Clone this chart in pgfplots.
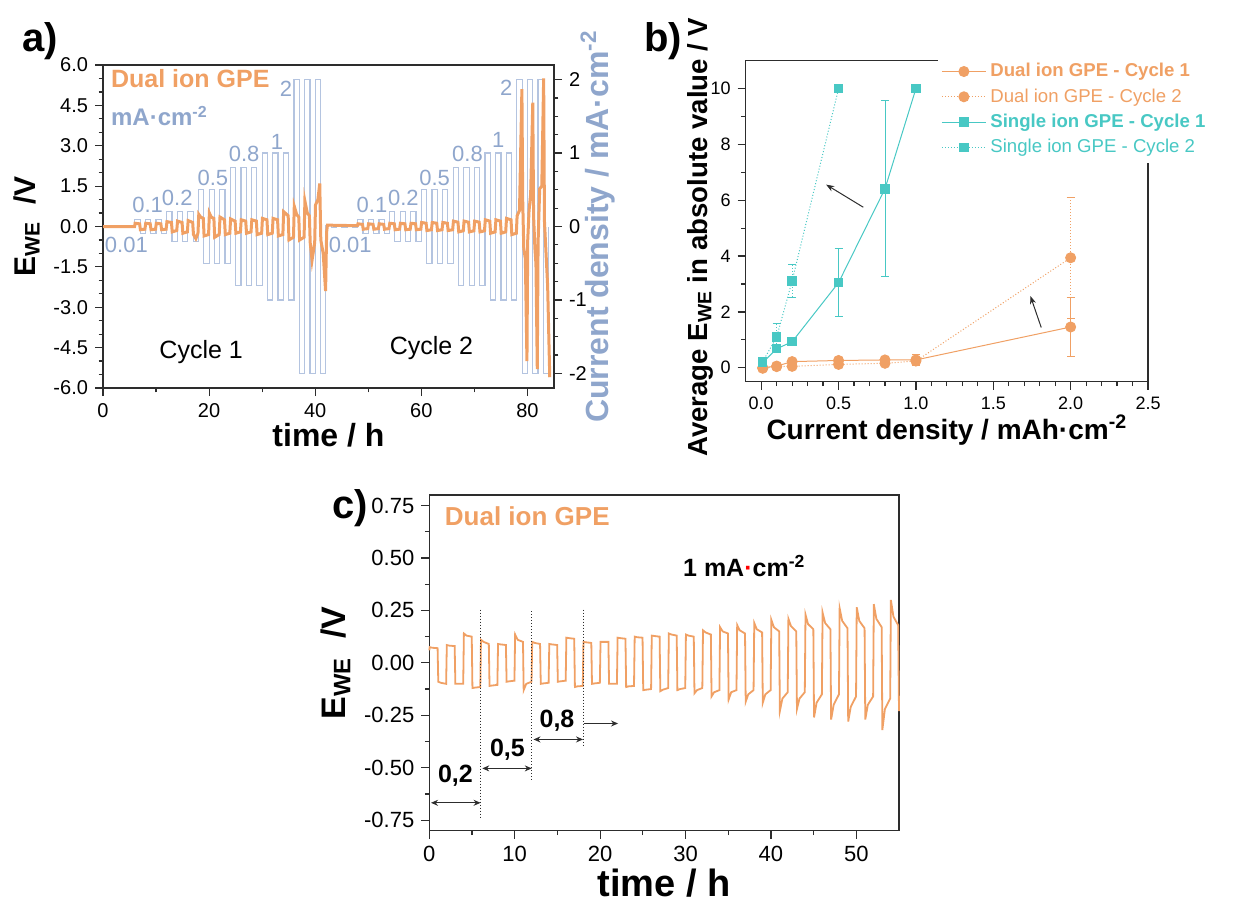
\documentclass[border=0pt]{standalone}
\usepackage{pgfplots}
\usepackage{pgfplotstable}
\pgfplotsset{compat=1.18}
\usepackage{fontspec}
\setmainfont{Liberation Sans}
\usetikzlibrary{arrows.meta}

\definecolor{dual}{RGB}{240,160,100}
\definecolor{curr}{RGB}{143,166,204}
\definecolor{wave}{RGB}{180,196,224}
\definecolor{single}{RGB}{72,200,196}
\definecolor{axc}{RGB}{45,45,45}

\pgfplotsset{
  origin/.style={
    scale only axis,
    axis line style={axc, line width=0.75pt},
    tick style={axc, line width=0.6pt},
    tick align=outside,
    major tick length=4pt, minor tick length=2.2pt,
    /pgf/number format/assume math mode=true,
    clip=false,
  },
}

% panel a: applied current (mA/cm2), square steps
\pgfplotstableread{
t I
0 0.01
1 -0.01
2 0.01
3 -0.01
4 0.01
5 -0.01
6 0.1
7 -0.1
8 0.1
9 -0.1
10 0.1
11 -0.1
12 0.2
13 -0.2
14 0.2
15 -0.2
16 0.2
17 -0.2
18 0.5
19 -0.5
20 0.5
21 -0.5
22 0.5
23 -0.5
24 0.8
25 -0.8
26 0.8
27 -0.8
28 0.8
29 -0.8
30 1
31 -1
32 1
33 -1
34 1
35 -1
36 2
37 -2
38 2
39 -2
40 2
41 -2
42 0.01
43 -0.01
44 0.01
45 -0.01
46 0.01
47 -0.01
48 0.1
49 -0.1
50 0.1
51 -0.1
52 0.1
53 -0.1
54 0.2
55 -0.2
56 0.2
57 -0.2
58 0.2
59 -0.2
60 0.5
61 -0.5
62 0.5
63 -0.5
64 0.5
65 -0.5
66 0.8
67 -0.8
68 0.8
69 -0.8
70 0.8
71 -0.8
72 1
73 -1
74 1
75 -1
76 1
77 -1
78 2
79 -2
80 2
81 -2
82 2
83 -2
84 0
}\curA

% panel a: working electrode potential (V)
\pgfplotstableread{
t V
0 0
5.95 0
6.05 0.12
6.9 0.1
7.05 -0.12
7.9 -0.1
8.05 0.12
8.9 0.1
9.05 -0.12
9.9 -0.1
10.05 0.12
10.9 0.1
11.05 -0.12
11.9 -0.1
12.05 0.18
12.9 0.15
13.05 -0.2
13.9 -0.15
14.05 0.2
14.9 0.15
15.05 -0.25
15.9 -0.2
16.05 0.22
16.9 0.15
17.05 -0.3
17.5 -0.45
17.9 -0.25
18.05 0.45
18.4 0.35
18.9 0.3
19.05 -0.35
19.9 -0.3
20.05 0.5
20.4 0.35
20.9 0.3
21.05 -0.4
21.9 -0.3
22.05 0.35
22.9 0.25
23.05 -0.3
23.9 -0.25
24.05 0.28
24.9 0.2
25.05 -0.25
25.9 -0.2
26.05 0.25
26.9 0.2
27.05 -0.25
27.9 -0.2
28.05 0.25
28.9 0.2
29.05 -0.3
29.9 -0.25
30.05 0.3
30.9 0.25
31.05 -0.3
31.9 -0.25
32.05 0.3
32.9 0.25
33.05 -0.35
33.9 -0.3
34.05 0.55
34.9 0.4
35.05 -0.5
35.9 -0.4
36.05 0.75
36.5 0.45
36.9 0.35
37.05 -0.5
37.9 -0.4
38.05 0.95
38.5 0.5
38.9 0.4
39.05 -0.6
39.4 -1.25
39.9 -0.6
40.05 0.8
40.5 1.0
40.85 1.6
41.05 -0.5
41.5 -1.0
41.95 -2.4
42.15 -0.2
42.3 0.05
47.95 0.03
48.05 0.1
48.9 0.08
49.05 -0.1
49.9 -0.08
50.05 0.1
50.9 0.08
51.05 -0.1
51.9 -0.08
52.05 0.1
52.9 0.08
53.05 -0.1
53.9 -0.08
54.05 0.12
54.9 0.1
55.05 -0.12
55.9 -0.1
56.05 0.12
56.9 0.1
57.05 -0.12
57.9 -0.1
58.05 0.12
58.9 0.1
59.05 -0.12
59.9 -0.1
60.05 0.15
60.9 0.12
61.05 -0.15
61.9 -0.12
62.05 0.15
62.9 0.12
63.05 -0.15
63.9 -0.12
64.05 0.15
64.9 0.12
65.05 -0.15
65.9 -0.12
66.05 0.2
66.9 0.16
67.05 -0.2
67.9 -0.16
68.05 0.2
68.9 0.16
69.05 -0.2
69.9 -0.16
70.05 0.2
70.9 0.16
71.05 -0.2
71.9 -0.16
72.05 0.25
72.9 0.2
73.05 -0.25
73.9 -0.2
74.05 0.25
74.9 0.2
75.05 -0.25
75.9 -0.2
76.05 0.3
76.9 0.25
77.05 -0.3
77.9 -0.25
78.05 0.4
78.5 0.6
78.95 5.1
79.1 1.0
79.3 -0.8
79.6 -1.2
79.9 -5.0
80.05 -0.5
80.3 0.6
80.6 1.2
81.0 4.6
81.15 0.4
81.4 -0.8
81.6 -1.4
81.85 -5.3
82.0 -0.6
82.3 1.4
82.7 1.5
83.05 5.5
83.2 0.2
83.5 -1.0
83.8 -2.2
84.2 -5.6
}\volA

% panel b: average |E_WE| vs current density
\pgfplotstableread{
j E e
0.01 0.0 0.05
0.1 0.06 0.05
0.2 0.22 0.05
0.5 0.26 0.08
0.8 0.28 0.08
1.0 0.28 0.2
2.0 1.46 1.05
}\dualone
\pgfplotstableread{
j E e
0.01 -0.02 0.03
0.1 0.04 0.03
0.2 0.05 0.05
0.5 0.12 0.08
0.8 0.16 0.08
1.0 0.24 0.1
2.0 3.94 2.16
}\dualtwo
\pgfplotstableread{
j E e
0.01 0.18 0.05
0.1 0.68 0.1
0.2 0.93 0.1
0.5 3.05 1.23
0.8 6.41 3.15
1.0 10.0 0
}\singleone
\pgfplotstableread{
j E e
0.01 0.22 0.05
0.1 1.1 0.5
0.2 3.11 0.6
0.5 10.0 0
}\singletwo

% panel c: potential profile, 1 mA/cm2 after 0.2/0.5/0.8 steps
\pgfplotstableread{
t V
0 0.06
0.05 0.075
0.35 0.072
0.97 0.07
1.05 -0.09
1.35 -0.095
1.97 -0.1
2.05 0.085
2.35 0.082
2.97 0.08
3.05 -0.1
3.35 -0.1
3.97 -0.1
4.05 0.14
4.35 0.13
4.97 0.125
5.05 -0.12
5.35 -0.118
5.97 -0.115
6.05 0.11
6.35 0.1
6.97 0.09
7.05 -0.11
7.35 -0.108
7.97 -0.105
8.05 0.09
8.35 0.088
8.97 0.085
9.05 -0.09
9.35 -0.088
9.97 -0.085
10.05 0.135
10.35 0.11
10.97 0.1
11.05 -0.13
11.35 -0.1
11.97 -0.09
12.05 0.1
12.35 0.095
12.97 0.09
13.05 -0.1
13.35 -0.098
13.97 -0.095
14.05 0.09
14.35 0.088
14.97 0.085
15.05 -0.09
15.35 -0.088
15.97 -0.085
16.05 0.12
16.35 0.118
16.97 0.115
17.05 -0.115
17.35 -0.112
17.97 -0.11
18.05 0.1
18.35 0.098
18.97 0.095
19.05 -0.1
19.35 -0.098
19.97 -0.095
20.05 0.1
20.35 0.1
20.97 0.1
21.05 -0.1
21.35 -0.1
21.97 -0.1
22.05 0.12
22.35 0.118
22.97 0.115
23.05 -0.115
23.35 -0.112
23.97 -0.11
24.05 0.125
24.35 0.122
24.97 0.12
25.05 -0.13
25.35 -0.128
25.97 -0.125
26.05 0.13
26.35 0.128
26.97 0.125
27.05 -0.135
27.35 -0.128
27.97 -0.12
28.05 0.14
28.35 0.135
28.97 0.13
29.05 -0.13
29.35 -0.125
29.97 -0.12
30.05 0.135
30.35 0.13
30.97 0.125
31.05 -0.145
31.35 -0.13
31.97 -0.12
32.05 0.155
32.35 0.145
32.97 0.135
33.05 -0.16
33.35 -0.14
33.97 -0.13
34.05 0.17
34.35 0.15
34.97 0.14
35.05 -0.175
35.35 -0.14
35.97 -0.13
36.05 0.18
36.35 0.155
36.97 0.14
37.05 -0.185
37.35 -0.15
37.97 -0.13
38.05 0.19
38.35 0.16
38.97 0.145
39.05 -0.19
39.35 -0.15
39.97 -0.13
40.05 0.205
40.35 0.17
40.97 0.15
41.05 -0.23
41.35 -0.17
41.97 -0.14
42.05 0.21
42.35 0.175
42.97 0.15
43.05 -0.22
43.35 -0.17
43.97 -0.14
44.05 0.23
44.35 0.185
44.97 0.16
45.05 -0.26
45.35 -0.19
45.97 -0.15
46.05 0.24
46.35 0.19
46.97 0.16
47.05 -0.27
47.35 -0.2
47.97 -0.15
48.05 0.26
48.35 0.2
48.97 0.165
49.05 -0.28
49.35 -0.21
49.97 -0.16
50.05 0.265
50.35 0.2
50.97 0.165
51.05 -0.27
51.35 -0.2
51.97 -0.16
52.05 0.28
52.35 0.21
52.97 0.17
53.05 -0.32
53.35 -0.22
53.97 -0.17
54.05 0.3
54.35 0.22
54.9 0.18
55 -0.23
}\volC

\begin{document}
\begin{tikzpicture}
\useasboundingbox (0,0) rectangle (622.5pt,-451.5pt);

% ---------- a) ----------
\begin{axis}[origin, at={(51.5pt,-194pt)}, anchor=south west,
  width=225.5pt, height=161.5pt,
  xmin=0, xmax=85, ymin=-2.2, ymax=2.2,
  axis x line=none, axis y line*=right,
  ytick={-2,-1,0,1,2}, minor y tick num=3,
  yticklabel style={font=\fontsize{10}{12}\selectfont},
  ylabel={\textbf{Current density / mA·cm\textsuperscript{-2}}},
  ylabel style={curr, font=\fontsize{16}{19}\selectfont},
  ylabel shift=-10pt,
]
\addplot[const plot, wave, line width=0.6pt] table[x=t, y=I] {\curA};
\end{axis}

\begin{axis}[origin, at={(51.5pt,-194pt)}, anchor=south west,
  width=225.5pt, height=161.5pt,
  xmin=0, xmax=85, ymin=-6, ymax=6,
  xtick={0,20,40,60,80}, minor x tick num=1,
  ytick={-6,-4.5,-3,-1.5,0,1.5,3,4.5,6}, minor y tick num=2,
  xtick pos=bottom, ytick pos=left,
  yticklabel style={/pgf/number format/.cd, fixed, fixed zerofill, precision=1},
  ticklabel style={font=\fontsize{10}{12}\selectfont},
  xlabel={\textbf{time / h}}, ylabel={\textbf{E\textsubscript{WE}\ \ /V}},
  xlabel style={font=\fontsize{16}{19}\selectfont, yshift=4pt},
  ylabel style={font=\fontsize{15}{18}\selectfont},
]
\addplot[dual, line width=1.5pt] table[x=t, y=V] {\volA};
\node[anchor=west, dual, font=\bfseries\fontsize{12.5}{15}\selectfont] at (axis cs:0.2,5.5) {Dual ion GPE};
\node[anchor=west, curr, font=\bfseries\fontsize{12}{14}\selectfont] at (axis cs:0.2,4.1) {mA·cm\textsuperscript{-2}};
\begin{scope}[every node/.style={curr, font=\fontsize{11}{13}\selectfont}]
\node at (axis cs:4.4,-0.67) {0.01};
\node at (axis cs:8.4,0.82) {0.1};
\node at (axis cs:14.0,1.06) {0.2};
\node at (axis cs:20.7,1.81) {0.5};
\node at (axis cs:26.6,2.71) {0.8};
\node at (axis cs:32.8,3.16) {1};
\node at (axis cs:34.5,5.11) {2};
\node at (axis cs:46.6,-0.67) {0.01};
\node at (axis cs:50.7,0.82) {0.1};
\node at (axis cs:56.6,1.08) {0.2};
\node at (axis cs:62.5,1.82) {0.5};
\node at (axis cs:68.7,2.71) {0.8};
\node at (axis cs:74.5,3.2) {1};
\node at (axis cs:76.0,5.17) {2};
\end{scope}
\node[font=\fontsize{12.5}{15}\selectfont] at (axis cs:18.5,-4.65) {Cycle 1};
\node[font=\fontsize{12.5}{15}\selectfont] at (axis cs:61.9,-4.53) {Cycle 2};
\end{axis}

% ---------- b) ----------
\begin{axis}[origin, at={(372.85pt,-190.85pt)}, anchor=south west,
  width=201.15pt, height=160.5pt,
  xmin=-0.1, xmax=2.5, ymin=-0.5, ymax=11,
  xtick={0,0.5,...,2.5}, minor x tick num=4,
  ytick={0,2,...,10}, minor y tick num=1,
  xtick pos=bottom, ytick pos=left,
  xticklabel style={/pgf/number format/.cd, fixed, fixed zerofill, precision=1},
  ticklabel style={font=\fontsize{9}{11}\selectfont},
  xlabel={\textbf{Current density / mAh·cm\textsuperscript{-2}}},
  ylabel={\textbf{Average E\textsubscript{WE} in absolute value / V}},
  xlabel style={font=\fontsize{14}{17}\selectfont, yshift=4pt},
  ylabel style={font=\fontsize{13.8}{17}\selectfont, at={(ticklabel cs:0.45)}},
  ylabel shift=-8pt,
  legend style={at={(0.478,1.015)}, anchor=north west, draw=none, fill=white,
    font=\fontsize{9.3}{11}\selectfont, row sep=0.4pt, inner sep=1.5pt},
  legend cell align=left,
  legend image code/.code={\draw[mark repeat=2,mark phase=2] plot coordinates {(0pt,0pt) (11pt,0pt) (22pt,0pt)};},
  error bars/error bar style={line width=0.45pt},
  error bars/error mark options={rotate=90, mark size=2pt, line width=0.45pt},
]
\addplot[dual, line width=0.5pt, mark=*, mark size=2.5pt, mark options={solid},
  error bars/.cd, y dir=both, y explicit] table[x=j, y=E, y error=e] {\dualone};
\addlegendentry{\textcolor{dual}{\textbf{Dual ion GPE - Cycle 1}}}
\addplot[dual, line width=0.5pt, densely dotted, mark=*, mark size=2.5pt, mark options={solid},
  error bars/.cd, y dir=both, y explicit] table[x=j, y=E, y error=e] {\dualtwo};
\addlegendentry{\textcolor{dual}{Dual ion GPE - Cycle 2}}
\addplot[single, line width=0.5pt, mark=square*, mark size=2.1pt, mark options={solid},
  error bars/.cd, y dir=both, y explicit] table[x=j, y=E, y error=e] {\singleone};
\addlegendentry{\textcolor{single}{\textbf{Single ion GPE - Cycle 1}}}
\addplot[single, line width=0.5pt, densely dotted, mark=square*, mark size=2.1pt, mark options={solid},
  error bars/.cd, y dir=both, y explicit] table[x=j, y=E, y error=e] {\singletwo};
\addlegendentry{\textcolor{single}{Single ion GPE - Cycle 2}}
\draw[-{Stealth[length=4pt,width=3pt]}, line width=0.5pt, axc] (axis cs:0.66,5.75) -- (axis cs:0.42,6.56);
\draw[-{Stealth[length=4pt,width=3pt]}, line width=0.5pt, axc] (axis cs:1.81,1.44) -- (axis cs:1.74,2.57);
\end{axis}

% ---------- c) ----------
\begin{axis}[origin, at={(214.65pt,-415.35pt)}, anchor=south west,
  width=234.85pt, height=167.85pt,
  xmin=0, xmax=55, ymin=-0.8, ymax=0.8,
  xtick={0,10,...,50}, minor x tick num=1,
  ytick={-0.75,-0.5,-0.25,0,0.25,0.5,0.75}, minor y tick num=1,
  xtick pos=bottom, ytick pos=left,
  yticklabel style={/pgf/number format/.cd, fixed, fixed zerofill, precision=2},
  ticklabel style={font=\fontsize{11}{13}\selectfont},
  xlabel={\textbf{time / h}}, ylabel={\textbf{E\textsubscript{WE}\ \ /V}},
  xlabel style={font=\fontsize{19}{22}\selectfont, yshift=3pt},
  ylabel style={font=\fontsize{17}{20}\selectfont},
]
\addplot[dual, line width=0.9pt] table[x=t, y=V] {\volC};
\begin{scope}[axc, line width=0.5pt]
\draw[densely dotted] (axis cs:6,0.254) -- (axis cs:6,-0.738);
\draw[densely dotted] (axis cs:12,0.246) -- (axis cs:12,-0.555);
\draw[densely dotted] (axis cs:18,0.254) -- (axis cs:18,-0.392);
\draw[{Stealth[length=3.5pt,width=3pt]}-{Stealth[length=3.5pt,width=3pt]}] (axis cs:0.2,-0.667) -- (axis cs:6,-0.667);
\draw[{Stealth[length=3.5pt,width=3pt]}-{Stealth[length=3.5pt,width=3pt]}] (axis cs:6.2,-0.503) -- (axis cs:12,-0.503);
\draw[{Stealth[length=3.5pt,width=3pt]}-{Stealth[length=3.5pt,width=3pt]}] (axis cs:12.2,-0.365) -- (axis cs:18,-0.365);
\draw[-{Stealth[length=3.5pt,width=3pt]}] (axis cs:18.1,-0.289) -- (axis cs:22.1,-0.289);
\end{scope}
\begin{scope}[every node/.style={font=\bfseries\fontsize{12.5}{15}\selectfont}]
\node at (axis cs:3.06,-0.54) {0,2};
\node at (axis cs:9.15,-0.415) {0,5};
\node at (axis cs:14.95,-0.277) {0,8};
\node[anchor=west] at (axis cs:28.9,0.46) {1 mA\textcolor{red}{·}cm\textsuperscript{-2}};
\end{scope}
\node[anchor=west, dual, font=\bfseries\fontsize{13}{15}\selectfont] at (axis cs:1.0,0.70) {Dual ion GPE};
\end{axis}

% panel letters
\node[font=\bfseries\fontsize{20}{24}\selectfont] at (20pt,-20.5pt) {a)};
\node[font=\bfseries\fontsize{20}{24}\selectfont] at (331.5pt,-20.5pt) {b)};
\node[font=\bfseries\fontsize{20}{24}\selectfont] at (175pt,-254pt) {c)};
\end{tikzpicture}
\end{document}
